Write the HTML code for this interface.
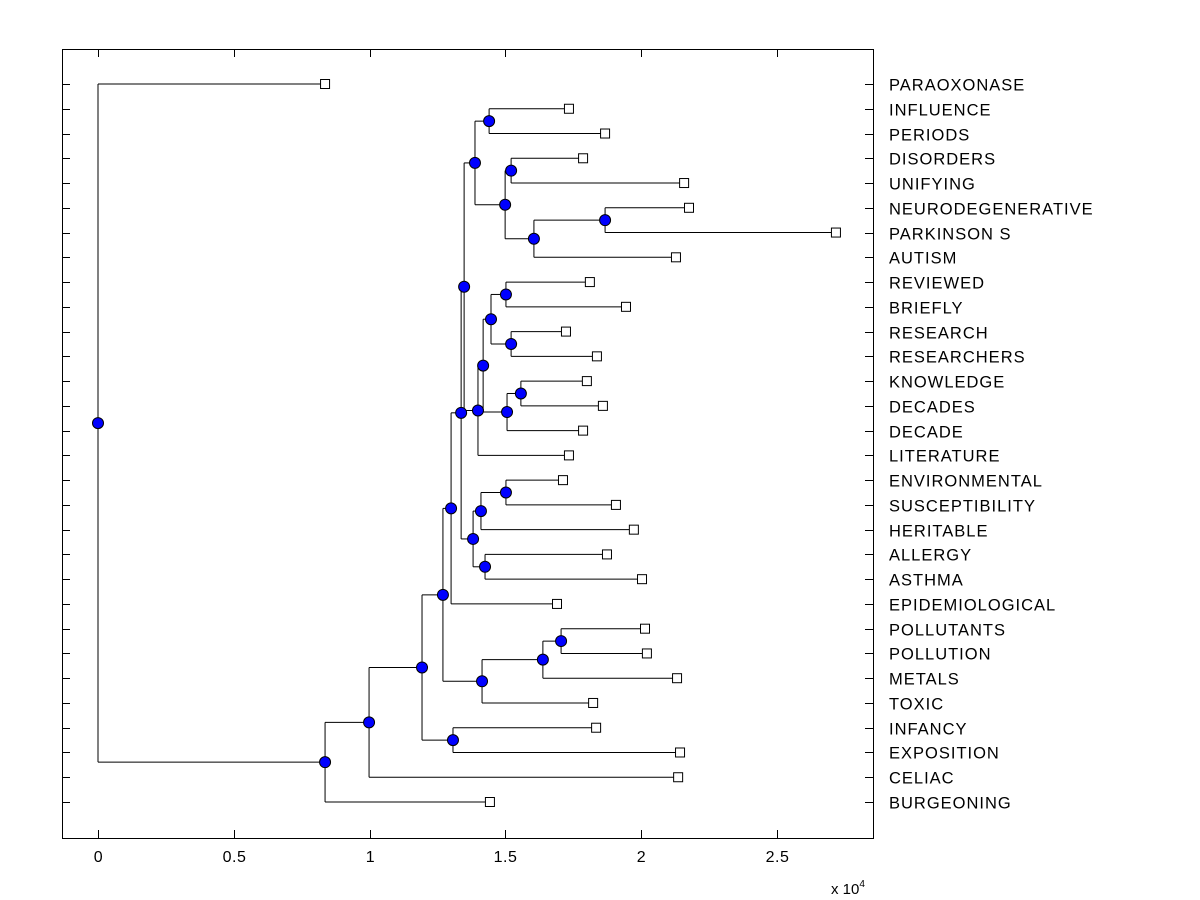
<!DOCTYPE html>
<html><head><meta charset="utf-8"><style>
html,body{margin:0;padding:0;background:#fff;}
svg{display:block;font-family:"Liberation Sans",Arial,sans-serif;}
</style></head><body>
<svg id="chart" width="1200" height="900" xmlns="http://www.w3.org/2000/svg">
<rect x="0" y="0" width="1200" height="900" fill="#fff"/>
<g id="layer"></g>
</svg>
<script>
const leafNames=["PARAOXONASE","INFLUENCE","PERIODS","DISORDERS","UNIFYING","NEURODEGENERATIVE","PARKINSON S","AUTISM","REVIEWED","BRIEFLY","RESEARCH","RESEARCHERS","KNOWLEDGE","DECADES","DECADE","LITERATURE","ENVIRONMENTAL","SUSCEPTIBILITY","HERITABLE","ALLERGY","ASTHMA","EPIDEMIOLOGICAL","POLLUTANTS","POLLUTION","METALS","TOXIC","INFANCY","EXPOSITION","CELIAC","BURGEONING"];
const leafValues=[0.836,1.734,1.867,1.786,2.158,2.176,2.717,2.128,1.811,1.944,1.723,1.837,1.800,1.859,1.786,1.734,1.712,1.907,1.973,1.874,2.003,1.690,2.014,2.021,2.132,1.823,1.834,2.143,2.136,1.443];
const mergeLeft=[1,3,5,32,31,30,8,10,36,12,39,38,41,35,16,44,19,45,43,48,22,50,51,49,26,53,55,56,0];
const mergeRight=[2,4,6,7,33,34,9,11,37,13,14,40,15,42,17,18,20,46,47,21,23,24,25,52,27,54,28,29,57];
const mergeHeights=[1.440,1.521,1.867,1.605,1.499,1.388,1.502,1.521,1.447,1.557,1.506,1.418,1.399,1.348,1.502,1.410,1.425,1.381,1.337,1.300,1.705,1.638,1.414,1.270,1.307,1.193,0.998,0.836,0];
const xTicks=[0,0.5,1,1.5,2,2.5];
const xTickLabels=["0","0.5","1","1.5","2","2.5"];

const NS="http://www.w3.org/2000/svg";
const g=document.getElementById('layer');
const L=62,R=873,T=49,B=838;
const xs=v=>98+v*271.6;
const ys=i=>84+i*(718/29);
function mk(t,a){const e=document.createElementNS(NS,t);for(const k in a)e.setAttribute(k,a[k]);g.appendChild(e);return e;}

let box=mk('rect',{x:L+0.5,y:T+0.5,width:R-L,height:B-T,fill:'none',stroke:'#000','stroke-width':1});



leafNames.forEach((n,i)=>{
  const y=Math.round(ys(i))+0.5;
  let t1=mk('line',{x1:L,y1:y,x2:L+8,y2:y,stroke:'#000'});
  
  
  let t2=mk('line',{x1:R-8,y1:y,x2:R,y2:y,stroke:'#000'});
  
  
  let tx=mk('text',{x:889,y:y+6,'font-size':16.5,'letter-spacing':1,fill:'#000'});
  tx.textContent=n;
  
  
});
xTicks.forEach((v,i)=>{
  const x=Math.round(xs(v))+0.5;
  let a=mk('line',{x1:x,y1:B,x2:x,y2:B-8,stroke:'#000'});
  
  
  let b=mk('line',{x1:x,y1:T,x2:x,y2:T+8,stroke:'#000'});
  
  
  let t=mk('text',{x:x,y:862,'font-size':16,'letter-spacing':0.5,'text-anchor':'middle',fill:'#000'});
  t.textContent=xTickLabels[i];
  
  
});
let ex=mk('text',{x:831,y:894,'font-size':15,fill:'#000'});
ex.innerHTML='x 10<tspan dy="-7" font-size="10">4</tspan>';



const nx=[],ny=[];
leafValues.forEach((v,i)=>{nx[i]=xs(v);ny[i]=ys(i);});
const n0=leafNames.length;
mergeHeights.forEach((h,k)=>{
  const id=n0+k,a=mergeLeft[k],b=mergeRight[k];
  nx[id]=xs(h);ny[id]=(ny[a]+ny[b])/2;
});
const circles=[];
mergeHeights.forEach((h,k)=>{
  const id=n0+k,a=mergeLeft[k],b=mergeRight[k],x=nx[id];
  let v=mk('line',{x1:x,y1:ny[a],x2:x,y2:ny[b],stroke:'#000'});
  
  
  [a,b].forEach(c=>{
    let hl=mk('line',{x1:x,y1:ny[c],x2:nx[c],y2:ny[c],stroke:'#000'});
    
    
  });
  circles.push(id);
});
leafValues.forEach((v,i)=>{
  let s=mk('rect',{x:nx[i]-4.5,y:ny[i]-4.5,width:9,height:9,fill:'#fff',stroke:'#000'});
  
  
});
circles.forEach(id=>{
  let c=mk('circle',{cx:nx[id],cy:ny[id],r:5.5,fill:'#0000ff',stroke:'#000','stroke-width':1});
  
  
});
</script>
</body></html>
